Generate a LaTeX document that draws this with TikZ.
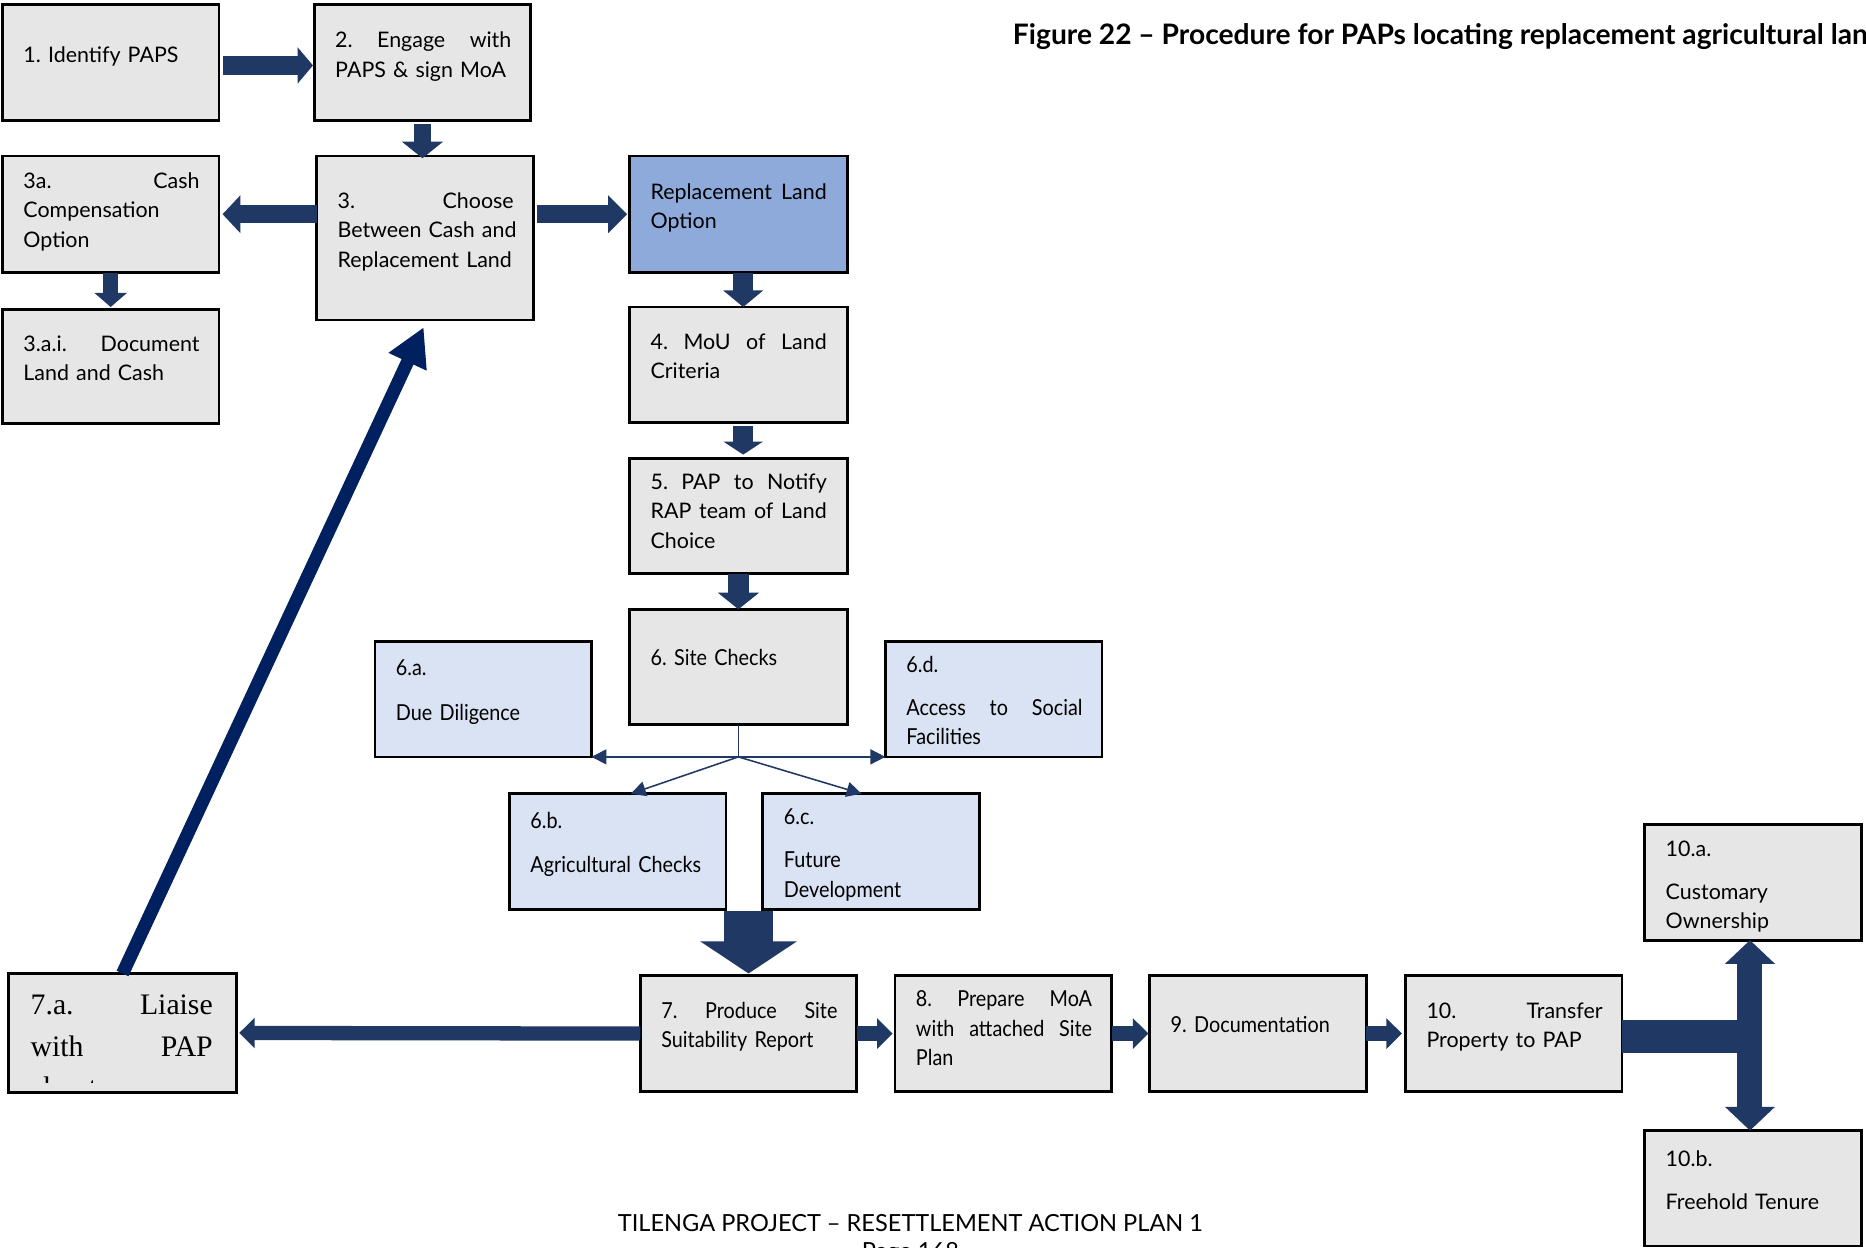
\documentclass[tikz,border=0pt]{standalone}
\usepackage{fontspec}
\setmainfont{Lato}
\newfontfamily\condfont[FakeStretch=0.9]{Lato}
\newfontfamily\serifface{Liberation Serif}
\usetikzlibrary{arrows.meta,calc}
\frenchspacing

\definecolor{boxgray}{HTML}{E7E6E6}
\definecolor{paleblue}{HTML}{DAE3F3}
\definecolor{midblue}{HTML}{8EAADB}
\definecolor{arrowblue}{HTML}{203864}
\definecolor{navyline}{HTML}{002060}

% a line stretched to the full text width (justified line)
\newcommand\jline[2][148pt]{\makebox[#1][s]{\spaceskip=0.3333em plus 1fil\relax #2}}
% box given by left, top, right, bottom
\newcommand\flowbox[6]{%
  \pgfmathsetmacro\fbw{#4-#2}%
  \pgfmathsetmacro\fbh{#5-#3}%
  \node[#6, minimum width=\fbw pt, minimum height=\fbh pt, anchor=north west] (#1) at (#2,-#3) {};}
% text block whose first baseline lies #3 below the box top
\newcommand\boxtext[5]{%
  \node[txt,#4,anchor=base west] (#1) at ([xshift=17.7pt,yshift=-#3pt]#2.north west) {#5};}

\tikzset{
  basebox/.style={draw=black, line width=2.3pt, inner sep=0pt, outer sep=0pt},
  gbox/.style={basebox, fill=boxgray},
  lbox/.style={basebox, fill=paleblue},
  rbox/.style={basebox, fill=midblue},
  txt/.style={inner sep=0pt, outer sep=0pt, text width=148pt, align=left,
    font=\fontsize{18}{24.8}\selectfont},
  cond/.style={font=\condfont\fontsize{18.5}{24.8}\selectfont},
  barrow/.style n args={3}{draw=arrowblue, line width=#1,
    -{Triangle[width=#2,length=#3]}},
  thinline/.style={draw=arrowblue, line width=1.3pt},
  thinarrow/.style={thinline, -{Triangle[width=12.6pt,length=12.6pt]}},
}

\begin{document}
\begin{tikzpicture}[x=1pt,y=1pt]
\clip (0,0) rectangle (1568,-1048);
\fill[white] (0,0) rectangle (1568,-1048);

% boxes
\flowbox{b1}{2}{4}{184}{101}{gbox}
\flowbox{b2}{264}{4}{446}{101}{gbox}
\flowbox{b3a}{2}{131}{184}{229}{gbox}
\flowbox{b3}{266}{131}{448}{269}{gbox}
\flowbox{brl}{529}{131}{712}{229}{rbox}
\flowbox{b3ai}{2}{260}{184}{356}{gbox}
\flowbox{b4}{529}{258}{712}{355}{gbox}
\flowbox{b5}{529}{385}{712}{482}{gbox}
\flowbox{b6}{529}{512}{712}{609}{gbox}
\flowbox{b6a}{315}{539}{497}{636}{lbox}
\flowbox{b6d}{744}{539}{926}{636}{lbox}
\flowbox{b6b}{428}{667}{610}{764}{lbox}
\flowbox{b6c}{641}{667}{823}{764}{lbox}
\flowbox{b7a}{7}{818}{199}{918}{gbox}
\flowbox{b7}{538}{820}{720}{917}{gbox}
\flowbox{b8}{752}{820}{934}{917}{gbox}
\flowbox{b9}{966}{820}{1148}{917}{gbox}
\flowbox{b10}{1181}{820}{1363}{917}{gbox}
\flowbox{b10a}{1382}{693}{1564}{790}{gbox}
\flowbox{b10b}{1382}{950}{1564}{1047}{gbox}

% texts
\boxtext{t1}{b1}{48.4}{}{1. Identify PAPS}
\boxtext{t2}{b2}{36}{}{\jline{2. Engage with}\\PAPS \& sign MoA}
\boxtext{t3a}{b3a}{27.2}{}{\jline{3a. Cash}\\Compensation\\Option}
\boxtext{t3}{b3}{44}{}{\jline{3. Choose}\\\jline{Between Cash and}\\Replacement Land}
\boxtext{trl}{brl}{36.5}{}{\jline{Replacement Land}\\Option}
\boxtext{t3ai}{b3ai}{35}{}{\jline{3.a.i. Document}\\Land and Cash}
\boxtext{t4}{b4}{35.6}{}{\jline{4. MoU of Land}\\Criteria}
\boxtext{t5}{b5}{26.2}{}{\jline{5. PAP to Notify}\\\jline{RAP team of Land}\\Choice}
\boxtext{t6}{b6}{47.4}{cond}{6. Site Checks}
\boxtext{t6a}{b6a}{29}{cond}{6.a.\\[12.6pt]Due Diligence}
\boxtext{t6d}{b6d}{26.3}{cond}{6.d.\\[11pt]\jline{Access to Social}\\Facilities}
\boxtext{t6b}{b6b}{29.4}{cond}{6.b.\\[12pt]Agricultural Checks}
\boxtext{t6c}{b6c}{25.7}{cond}{6.c.\\[11.6pt]Future\\Development}
\boxtext{t7}{b7}{35.7}{cond}{\jline{7. Produce Site}\\Suitability Report}
\boxtext{t8}{b8}{26}{cond}{\jline{8. Prepare MoA}\\\jline{with attached Site}\\Plan}
\boxtext{t9}{b9}{47.8}{cond}{9. Documentation}
\boxtext{t10}{b10}{35.7}{}{\jline{10. Transfer}\\Property to PAP}
\boxtext{t10a}{b10a}{26.3}{}{10.a.\\[11.6pt]Customary\\Ownership}
\boxtext{t10b}{b10b}{29.8}{}{10.b.\\[11.6pt]Freehold Tenure}
\begin{scope}
  \clip (b7a.north west) rectangle ([yshift=8pt]b7a.south east);
  \node[txt, text width=153pt, font=\serifface\fontsize{25}{35}\selectfont,
    anchor=base west] (t7a) at ([shift={(18.8pt,-34.4pt)}]b7a.north west)
    {\jline[153pt]{7.a. Liaise}\\\jline[153pt]{with PAP}\\about};
\end{scope}

% block arrows
\draw[barrow={16pt}{30pt}{13pt}] ([shift={(3pt,-2.5pt)}]b1.east) -- ([shift={(-1pt,-2.5pt)}]b2.west);
\draw[barrow={15pt}{34pt}{14pt}] ([yshift=-3pt]b2.south) -- ($(b2.south |- b3.north)+(0,-2pt)$);
\draw[barrow={15pt}{31pt}{15pt}] (b3.west |- b3a.east) -- ([xshift=3pt]b3a.east);
\draw[barrow={15pt}{31pt}{16pt}] ($(b3.east |- brl.west)+(3pt,0)$) -- ([xshift=-2pt]brl.west);
\draw[barrow={13pt}{27pt}{12pt}] (b3a.south) -- ([yshift=2pt]b3ai.north);
\draw[barrow={17pt}{33pt}{14pt}] ([xshift=4pt]brl.south) -- ([xshift=4pt]b4.north);
\draw[barrow={17pt}{33pt}{11pt}] ([shift={(4pt,-3pt)}]b4.south) -- ([shift={(4pt,3pt)}]b5.north);
\draw[barrow={17pt}{34pt}{14pt}] (b5.south) -- (b6.north);
\draw[barrow={41pt}{80pt}{27pt}] ($(b7.north |- b6b.south)+(0,-1.2pt)$) -- ([yshift=2pt]b7.north);
\draw[barrow={12pt}{25pt}{13pt}] (b7.west) -- ([xshift=2pt]b7a.east);
\draw[barrow={12pt}{25pt}{13pt}] (b7.east) -- ([xshift=-2pt]b8.west);
\draw[barrow={12pt}{25pt}{13pt}] (b8.east) -- ([xshift=-1pt]b9.west);
\draw[barrow={12pt}{25pt}{13pt}] (b9.east) -- ([xshift=-3pt]b10.west);

% return arrow from 7.a back to 3
\draw[draw=navyline, line width=11pt, -{Triangle[width=33pt,length=32pt]}]
  (b7a.north) -- ([shift={(-1pt,-6pt)}]b3.south);

% split after 10
\coordinate (tj) at (1470.5,-871);
\draw[draw=arrowblue, line width=28pt] (b10.east |- tj) -- ([xshift=10.5pt]tj);
\draw[barrow={21pt}{41pt}{20pt}] (tj) -- (tj |- b10a.south);
\draw[barrow={21pt}{41pt}{20pt}] (tj) -- (tj |- b10b.north);

% site check branches
\coordinate (br) at ($(b6.south)+(0,-27pt)$);
\draw[thinline] (b6.south) -- (br);
\draw[thinarrow] (br) -- (b6a.east |- br);
\draw[thinarrow] (br) -- (b6d.west |- br);
\draw[thinarrow] (br) -- ([xshift=11pt]b6b.north);
\draw[thinarrow] (br) -- ([xshift=-8pt]b6c.north);

% caption and footer
\node[anchor=base west, inner sep=0pt, font=\bfseries\fontsize{23.7}{28}\selectfont] (title)
  at (851,-37) {Figure 22 – Procedure for PAPs locating replacement agricultural land};
\node[anchor=base, inner sep=0pt, font=\fontsize{19.8}{24}\selectfont] (foot)
  at (765,-1034.4) {TILENGA PROJECT – RESETTLEMENT ACTION PLAN 1};
\node[anchor=base, inner sep=0pt, font=\fontsize{19.8}{24}\selectfont] (page)
  at (765,-1058.5) {Page 168};
\end{tikzpicture}
\end{document}
